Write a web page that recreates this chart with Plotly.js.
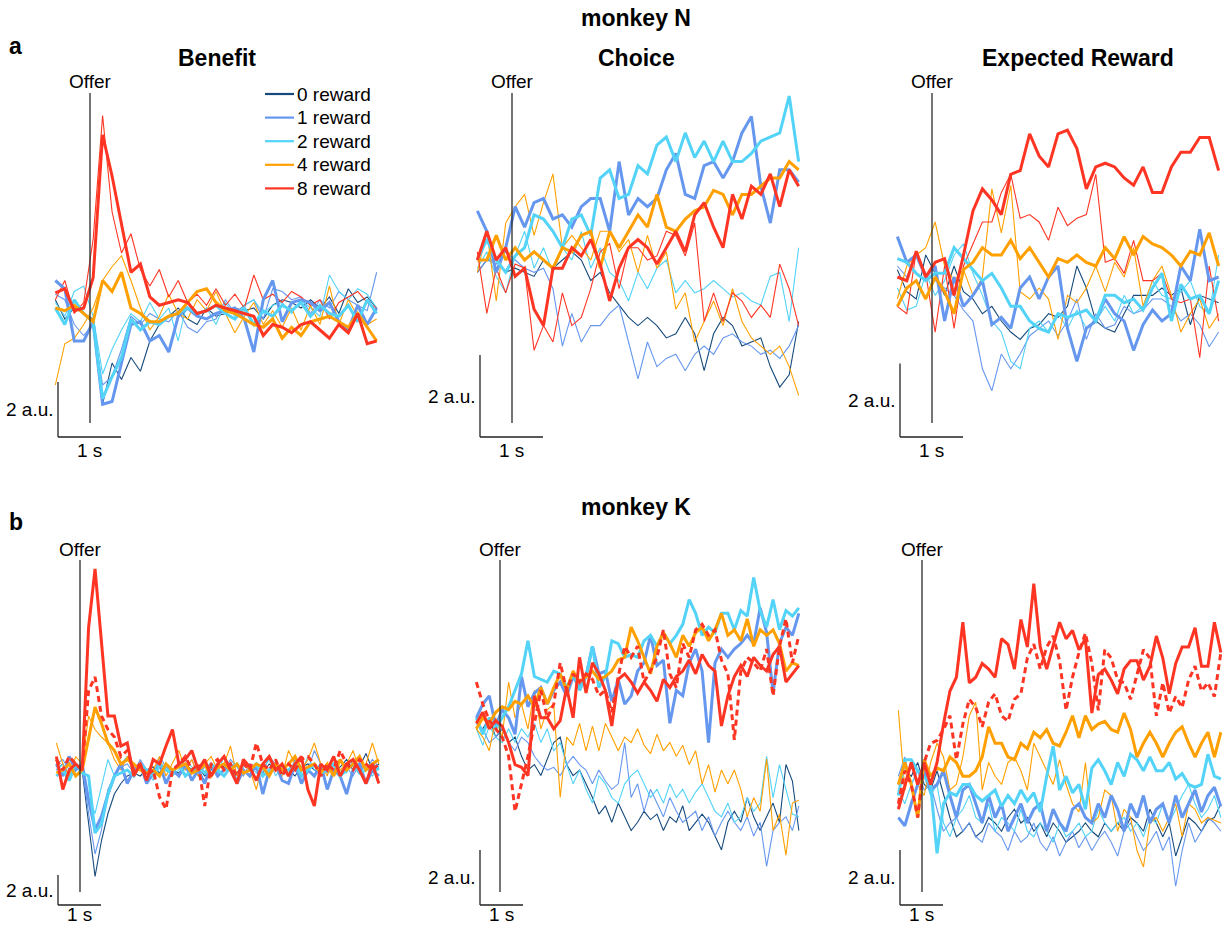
<!DOCTYPE html>
<html><head><meta charset="utf-8">
<script src="https://cdn.plot.ly/plotly-3.0.1.min.js"></script>
<style>html,body{margin:0;padding:0;background:#fff}#chart{width:1225px;height:926px}</style>
</head><body><div id="chart"></div>
<script>
// ---------- time bins (seconds relative to offer) ----------
const timeTop = {start: -0.55, step: 0.15, count: 35};
const timeBottom = {start: -0.55, step: 0.15, count: 51};

// ---------- labels ----------
const rewardKeys = ['r0', 'r1', 'r2', 'r4', 'r8'];
const rewardLabels = ['0 reward', '1 reward', '2 reward', '4 reward', '8 reward'];
const panelTitles = ['Benefit', 'Choice', 'Expected Reward'];
const monkeyTitles = ['monkey N', 'monkey K'];
const rowLetters = ['a', 'b'];
const scaleBarTime = 1;   // s
const scaleBarAmp = 2;    // a.u.

// ---------- monkey N : Benefit (a.u.) ----------
const N_ben_r0 = [0.3,-0.4,0.0,-0.2,-0.4,-3.5,-2.0,-2.6,-1.8,-2.3,-1.2,-0.6,-0.3,0.0,-0.4,-0.6,0.0,-0.3,-0.2,0.0,-0.1,0.0,-0.4,0.1,0.3,0.2,0.0,0.3,0.0,0.4,-0.2,0.7,0.2,0.4,0.0];
const N_ben_r1_thin = [0.5,0.3,-0.6,-1.0,-0.6,-2.8,-2.5,-1.5,-0.3,-0.6,-0.2,-0.4,-0.5,-0.1,-0.7,-0.9,-0.5,-0.4,0.3,-0.2,0.1,0.3,-0.4,0.7,0.6,0.3,0.4,-0.2,0.3,0.0,0.6,0.3,0.1,-0.1,1.3];
const N_ben_r1_thick = [1.0,0.7,-1.2,-1.2,-0.5,-3.5,-3.4,-2.0,-0.6,-0.5,-1.2,-1.0,-1.6,-0.3,0.0,-0.3,-0.4,-0.2,-0.1,0.0,-0.4,-1.6,0.3,1.0,-0.5,0.2,0.3,0.2,-0.1,0.2,-0.5,-0.8,0.1,-0.6,0.0];
const N_ben_r2_thin = [0.2,-0.3,0.6,0.8,-0.3,-2.4,-1.5,-0.8,-0.2,-0.5,0.2,-0.4,0.0,-1.2,0.3,-0.3,0.0,-0.6,0.2,-0.3,0.1,0.3,-0.2,0.1,0.2,-0.2,0.3,0.0,-0.3,1.2,0.6,0.3,0.7,0.5,0.0];
const N_ben_r2_thick = [0.0,-0.6,0.3,-0.2,-0.5,-3.3,-2.5,-1.8,-0.4,-0.8,-0.5,-0.6,-0.3,-0.2,0.0,-0.2,-0.1,0.1,-0.2,-0.4,0.0,-0.6,-0.1,-0.3,0.1,-0.1,0.2,-0.3,0.1,-0.2,-0.3,0.1,-0.5,0.3,-0.2];
const N_ben_r4_thin = [-2.8,-1.3,-1.1,-0.6,0.0,1.0,1.5,1.9,1.0,0.0,-0.8,-0.3,0.5,-0.2,-0.4,0.3,-0.1,0.6,-0.2,-0.9,-0.3,0.2,-0.6,-0.1,-0.7,0.0,-0.8,0.1,-0.6,0.8,-0.6,0.3,-0.3,-0.6,-0.4];
const N_ben_r4_thick = [0.0,-0.1,0.1,-0.2,-0.5,1.0,0.6,1.3,0.0,-0.2,-0.5,-0.5,-0.3,-0.2,0.2,0.6,0.7,0.2,-0.1,-0.2,-0.4,-0.6,-0.7,-0.4,-1.1,-0.7,-1.0,-0.5,-0.4,-0.3,-0.5,-0.7,-0.2,-0.7,-1.2];
const N_ben_r8_thin = [0.3,1.0,-0.2,0.2,2.5,7.0,3.5,2.0,2.7,1.4,0.8,1.4,0.4,1.0,0.2,0.5,0.1,0.7,0.1,0.5,0.0,1.2,0.3,0.5,0.2,0.6,0.4,0.1,0.3,-0.4,0.2,0.4,0.6,0.2,0.0];
const N_ben_r8_thick = [0.55,0.7,-0.1,0.0,1.1,6.3,4.8,3.0,1.3,1.6,0.4,0.1,0.2,0.3,0.2,-0.2,-0.1,0.1,0.0,-0.1,-0.2,-0.3,-1.0,-0.6,-0.7,-0.9,-0.6,-0.5,-0.8,-1.1,-0.6,-0.9,-0.2,-1.3,-1.2];

// ---------- monkey N : Choice ----------
const N_cho_r0 = [-0.3,0,0,-0.3,-0.2,-0.3,-0.4,0,-0.2,0,0.2,0,-0.5,-0.3,-0.8,-1.1,-1.4,-1.6,-1.4,-1.6,-1.9,-1.8,-1.4,-1.8,-2.7,-1.8,-1.4,-1.6,-2.1,-2.0,-1.9,-2.6,-3.1,-2.8,-1.5];
const N_cho_r1_thin = [-0.3,0.0,-0.1,0.2,0.0,-0.2,-0.3,-0.2,-0.7,-2.1,-1.3,-2.0,-1.6,-1.6,-1.3,-1.1,-2.0,-2.9,-2.0,-2.6,-2.4,-2.3,-2.7,-2.3,-2.1,-2.3,-1.9,-1.8,-2.0,-2.1,-2.3,-2.2,-2.4,-2.1,-1.6];
const N_cho_r1_thick = [1.2,0.7,-0.3,0.3,1.3,0.8,1.4,1.5,1.0,1.1,0.8,1.3,1.5,1.5,0.7,2.4,1.1,1.5,1.3,1.5,2.2,2.6,1.6,1.5,2.3,2.4,2.0,2.4,3.1,3.5,1.8,0.9,2.2,2.2,1.9];
const N_cho_r2_thin = [-0.2,0.2,-0.4,-0.8,0.1,0.7,-0.2,0.3,-0.3,0.3,0.0,0.7,-0.2,0.3,-0.3,-0.5,-1.0,-0.3,-0.7,-0.2,0.0,-0.8,-0.5,-0.8,-0.7,-0.5,-0.7,-0.9,-0.8,-1.0,-1.1,-0.4,-0.3,-1.5,0.3];
const N_cho_r2_thick = [0,0.5,0,-0.3,0.1,0.3,1.1,1.0,0.7,0.3,1.0,1.1,0.6,2.0,2.2,1.5,1.6,2.3,2.1,2.8,3.0,2.4,3.1,2.5,2.9,2.4,2.9,2.4,2.4,2.6,2.9,3.0,3.1,4.0,2.4];
const N_cho_r4_thin = [-0.3,0.7,-1.0,0.9,1.3,1.6,0.6,1.4,2.1,0.3,0.6,0.3,0.0,0.7,0.7,0.2,0.5,-0.3,0.6,-0.2,0.2,-1.2,-0.8,-2.0,-1.5,-1.0,-1.6,-0.7,-1.5,-1.9,-2.1,-2.3,-2.1,-2.6,-3.3];
const N_cho_r4_thick = [0,0,0.6,0,0.3,0,0.2,0,-0.2,0.3,0.2,0.6,0.7,-0.2,0.7,0.3,0.7,1.1,0.8,1.6,0.8,0.7,1.0,1.2,1.3,1.7,1.6,1.1,1.6,1.6,1.8,2.0,2.0,2.4,2.2];
const N_cho_r8_thin = [0.2,-1.3,-0.2,-0.8,-0.1,-0.2,-2.2,-1.6,-2.0,-0.8,-1.6,-1.4,-0.7,0.2,0.4,-0.7,0.3,0.3,0.0,0.1,0.7,0.6,0.1,0.9,-1.5,-0.8,-1.5,-0.8,-1.0,-1.4,-1.1,-1.4,-0.1,-0.7,-1.6];
const N_cho_r8_thick = [0,0.7,0,0.3,-0.4,-0.2,-1.2,-1.6,-0.2,-0.2,0.3,0.1,0.5,-0.1,-1.0,-0.2,0.3,0.5,0.3,-0.1,0.3,0.7,0.2,1.1,1.4,0.8,0.3,1.6,1.0,1.8,1.6,2.1,1.3,2.2,1.8];

// ---------- monkey N : Expected Reward ----------
const N_exp_r0 = [0.2,-0.4,-0.6,0.6,0.1,-0.5,0.3,-0.4,-0.6,-1.0,-0.8,-1.2,-1.5,-1.7,-1.4,-1.3,-1.0,-1.1,-0.8,0.3,-0.3,-1.2,-1.4,-1.5,-1.0,-0.5,-0.5,-0.5,-0.3,-0.5,-0.3,-1.3,-0.5,-0.6,-0.7];
const N_exp_r1_thin = [0.3,0,0.6,0.1,-0.1,-0.3,-0.5,-0.9,-1.2,-2.5,-3.1,-2.1,-2.5,-2.1,-1.6,-1.4,-1.2,-1.6,-1.2,-0.6,-1.7,-1.0,-1.4,-1.3,-0.8,-1.0,-0.9,-0.6,-0.6,-0.8,-1.2,-1.0,-1.3,-1.9,-1.5];
const N_exp_r1_thick = [1.1,0.4,0.6,0,0.3,-1.2,0,-0.8,-0.5,-0.1,-1.3,-1.1,-1.4,-0.3,0,-0.6,0,0.3,-1.4,-2.3,-1.4,-1.2,-0.6,-1.0,-1.2,-2.0,-1.3,-0.9,-1.2,-1.0,0.3,-0.1,1.3,-0.1,0];
const N_exp_r2_thin = [-0.3,-0.9,-0.8,0.1,-0.5,-0.1,0.6,0.9,0.1,-0.5,-1.2,-1.5,-2.3,-2.5,-1.4,-1.2,-1.5,-1.0,-1.4,-0.9,-1.4,-1.2,-0.8,-1.2,-0.5,-1.0,-0.8,-0.1,-0.5,-0.6,-0.4,-0.1,-0.8,-1.0,0.6];
const N_exp_r2_thick = [0.5,0.4,0.1,-0.1,0.1,0.1,0.8,0.5,0.2,-0.1,0.1,-0.3,-0.8,-0.8,-1.2,-1.4,-1.5,-1.0,-1.1,-1.0,-0.9,-1.2,-0.5,-0.5,-0.7,-0.6,-0.9,-0.3,0.1,-1.2,-0.2,-0.6,-0.5,-1.0,-0.1];
const N_exp_r4_thin = [-0.6,0.3,0.6,0.8,1.5,0.3,-0.1,0.2,-0.5,0,2.4,1.2,2.5,-0.4,-0.6,-0.3,-0.6,-1.7,-0.5,-0.7,-0.3,0.3,-0.4,0.4,0,0.8,-0.8,-0.1,0.3,-0.5,-1.5,-1.0,-0.6,-1.4,-1.0];
const N_exp_r4_thick = [-0.8,-0.3,-0.1,-0.6,0,-0.4,-1.0,0.2,0.4,0.8,0.6,0.6,1.0,0.5,0.8,0.4,0,0.5,0.4,0.6,0.4,0.3,0.8,0.5,1.1,0.6,1.1,0.9,0.8,0.6,0.3,0.7,0.6,1.2,0.3];
const N_exp_r8_thin = [-0.8,-1.0,0.7,0.1,-1.5,0.3,-1.4,0.3,0.9,1.5,1.5,2.3,2.8,1.6,1.7,1.5,1.0,1.9,1.4,1.6,1.7,2.8,0.4,0.5,0.1,1.0,-0.1,-0.1,0.1,-0.6,-0.7,-0.6,-2.2,0.3,-1.2];
const N_exp_r8_thick = [0,-0.1,0.7,0,0.4,0.5,-0.5,0.6,1.8,2.4,2.1,1.7,2.8,2.9,3.9,3.3,3.0,3.9,4.0,3.5,2.4,3.0,3.1,3.0,2.7,2.5,3.0,2.3,2.3,3.0,3.4,3.4,3.8,3.8,2.9];

// ---------- monkey K : Benefit ----------
const K_ben_r0 = [0,0.4,-0.4,0.2,0,-3.6,-7.1,-4.7,-2.9,-1.6,-0.9,-0.4,-0.2,-0.4,0,0.2,-0.2,0.4,0,-0.2,0.4,0,0.2,-0.4,0,0.4,0.2,0,-0.2,0.4,0,0.2,-0.2,0.4,0,0.2,0,-0.4,0.2,0.4,0,-0.2,0.4,0,0.2,0.7,0,0.2,1.1,0,0.4];
const K_ben_r1_thin = [0.4,0.7,0,-0.4,0.2,-2.9,-5.6,-4.0,-1.3,-0.4,0.2,0.4,-0.2,0.7,0,-0.4,0.9,0.2,-0.2,0.4,0,0.7,-0.4,0.2,0.4,-0.2,0,0.7,0.2,-0.4,0.4,0,-0.2,0.9,0.4,0,-0.4,0.7,0.2,0,1.3,0.4,-0.2,0,0.7,0.2,-0.4,0.4,0,0.7,0.2];
const K_ben_r1_thick = [0.4,-0.4,0.9,0,0.4,-2.0,-4.0,-3.1,-1.6,-0.4,0.4,-0.9,0,0.4,-0.9,-0.2,0.4,-0.9,0,-0.4,0.4,-0.7,0,-0.9,0.4,-0.4,0,0.4,-0.9,0,-0.4,0.4,-1.6,0,0.4,-0.7,-0.9,0.4,-0.9,0,-0.4,0.4,-1.3,0,-0.4,-1.6,0,0.4,-0.9,0,-0.4];
const K_ben_r2_thin = [0,0.4,-0.4,0.2,0,-1.8,-2.9,-1.1,0.7,-0.4,0.4,0.9,-0.2,0.4,0,-0.7,0.2,0.4,-0.4,0,0.7,0.2,-0.4,0.4,0,-0.2,0.9,0,-0.4,0.2,0.4,-0.2,0,0.7,-0.4,0.2,0,0.4,-0.2,0.9,0,-0.4,0.2,0.4,0,-0.2,0.7,0,0.2,-0.4,0.2];
const K_ben_r2_thick = [-0.4,0,-0.7,0.4,-0.2,-0.4,-4.2,-3.6,-1.6,-0.4,-0.2,0,-0.4,0.4,0,-0.4,0.4,0,-0.2,0.4,-0.4,0,0.2,-0.2,0.4,0,-0.4,0.2,0.4,-0.2,0,0.4,-0.4,0,0.4,-0.2,0,0.4,-0.4,0,0.4,-0.2,0,0.4,-0.4,0,0.4,-0.2,0,0.4,0];
const K_ben_r4_thin = [1.8,0.4,-0.4,0.9,0.4,3.6,2.7,2.2,1.8,0.7,0,0.9,-0.2,0.4,-0.9,0,0.9,-0.4,0.4,1.3,0,0.7,-0.4,0.4,0.9,0,0.4,1.6,-0.4,0.4,0,-1.3,0.4,0.9,0,-0.4,1.3,0.4,0,0.7,1.8,0.4,-0.4,0.9,0,0.4,1.3,0,0.4,1.8,0.4];
const K_ben_r4_thick = [-0.2,0,0.4,-0.4,0,2.2,4.2,3.1,1.8,1.3,0.4,0.7,0.4,0,-0.2,0,-0.4,0.4,0,0.2,0.4,-0.2,0,0.4,-0.4,0.2,0.4,0,0.4,-0.2,0,0.4,0.2,-0.4,0.4,0,0.4,0.9,0,0.2,0.4,-0.2,0.4,-0.4,0.7,0,0.4,0.9,0,0.4,0.7];
const K_ben_r8_dash = [0.7,0,0.9,0.4,0,5.3,6.2,3.6,2.7,2.2,0.9,1.3,0,0.4,-0.4,0,-1.8,-2.6,0,0.4,0.9,0,0.4,-2.4,0.4,0.7,0,0.4,-0.4,0.4,0,1.8,0.4,0,0.7,-0.4,0.4,0,0.7,0.9,0.4,-0.4,0.4,0,1.3,0.4,0,0.7,0.4,0,0.4];
const K_ben_r8_thick = [0.9,-1.3,0,0.4,0,9.5,13.4,8.5,3.6,3.6,1.6,1.8,-0.4,0.4,-0.7,0.7,0.4,1.6,2.7,0.4,0.7,1.3,0,0.7,-0.4,0.4,0.9,0,-0.9,0.7,0.2,-0.7,0.4,0.9,0,0.4,-0.4,0.4,0.9,-1.3,-2.4,0.4,0,0.9,-0.4,0.4,0.7,0,-0.9,0.4,-0.9];

// ---------- monkey K : Choice ----------
const K_cho_r0 = [0,-0.2,0.2,-0.5,-0.2,-0.7,-0.5,-1.2,-1.7,-1.5,-1.9,-1.3,-0.7,-0.5,-1.5,-1.9,-1.7,-2.2,-2.7,-3.3,-3.0,-3.6,-2.9,-3.4,-3.9,-3.6,-3.2,-3.5,-3.3,-3.9,-3.4,-3.6,-3.0,-3.9,-3.6,-3.3,-3.6,-4.1,-4.6,-3.6,-3.2,-3.6,-2.7,-3.4,-3.9,-3.4,-2.9,-3.6,-1.5,-2.1,-3.9];
const K_cho_r1_thin = [0,-0.2,-0.7,-0.5,-0.2,-0.7,-1.0,-0.5,-0.7,-1.2,-1.5,-1.7,-1.6,-1.9,-1.5,-1.2,-1.5,-1.7,-2.2,-1.7,-2.1,-2.4,-2.2,-0.7,-2.7,-2.2,-3.2,-2.4,-2.9,-3.4,-2.7,-3.2,-3.6,-3.4,-3.2,-3.9,-3.4,-4.1,-3.6,-3.2,-3.6,-3.9,-3.4,-4.1,-3.6,-5.2,-3.9,-3.6,-3.4,-3.9,-3.0];
const K_cho_r1_thick = [0.2,0.7,1.0,-0.1,0.5,0.2,-0.4,1.7,0.6,1.1,1.3,0.7,1.2,1.5,1.0,1.7,1.3,1.7,2.8,1.8,1.9,0.8,1.6,0.7,1.0,1.9,2.2,3.2,2.1,2.3,0,1.2,1.0,2.2,2.7,1.9,-0.7,2.2,2.7,2.4,2.7,2.9,3.2,2.9,4.2,3.3,1.1,2.9,3.5,3.2,4.0];
const K_cho_r2_thin = [-0.2,-0.8,-0.1,-0.5,-0.7,-0.2,-0.7,-0.2,-0.5,0,-0.7,-0.2,-1.0,-0.7,-1.5,-2.2,-1.7,-2.4,-2.9,-1.9,-2.2,-2.7,-2.9,-2.2,-1.9,-1.7,-2.2,-2.7,-2.4,-2.9,-2.2,-2.7,-2.4,-2.9,-2.5,-2.2,-2.7,-3.2,-3.4,-2.9,-3.6,-3.4,-2.7,-3.2,-2.9,-1.2,-2.7,-1.5,-2.4,-3.3,-3.4];
const K_cho_r2_thick = [0.2,-0.4,0.2,-0.2,0.2,0.6,1.2,1.8,3.0,1.7,1.6,1.5,1.9,1.8,1.3,1.8,1.2,1.7,2.8,1.3,1.7,3.0,2.9,2.4,2.5,2.4,3.0,3.2,2.8,3.3,2.9,3.2,3.6,4.5,4.0,3.2,3.5,3.3,4.0,4.0,3.4,4.1,3.9,5.3,4.1,3.5,4.5,3.4,4.1,3.9,4.2];
const K_cho_r4_thin = [-0.2,-0.5,-1.0,0.2,-0.5,1.5,0.2,0.7,-0.2,1.2,-0.2,0.5,0.7,-2.7,-0.5,-0.8,0,-1.0,-0.1,-1.0,0,-0.5,-1.0,-0.5,-0.7,-0.2,-0.8,-1.1,-0.4,-1.0,-0.7,-1.2,-0.8,-1.5,-1.0,-2.2,-1.5,-2.5,-1.7,-2.2,-1.7,-2.4,-3.4,-2.7,-3.2,-1.3,-3.9,-3.3,-4.8,-2.9,-2.8];
const K_cho_r4_thick = [-0.2,0.2,0,0.4,0.6,0.5,0.8,0.7,1.0,0.6,1.3,0.7,1.3,1.8,1.2,1.9,1.5,1.7,1.9,1.6,1.7,1.9,2.3,2.4,3.5,3.0,2.4,1.8,2.8,3.3,2.9,2.4,3.2,2.8,3.3,3.5,3.0,3.4,4.0,3.2,3.4,3.0,3.8,2.8,3.4,3.2,3.4,2.9,1.9,2.2,2.1];
const K_cho_r8_dash = [1.5,0.7,0.1,-0.2,-0.5,-1.2,-3.2,-2.2,-1.2,0,1.2,0.2,0.7,2.2,1.2,1.8,1.5,1.8,1.6,1.0,1.2,0.4,1.7,2.8,2.4,2.8,1.5,1.9,2.4,3.4,1.8,1.3,2.9,2.4,3.4,3.6,3.2,3.4,2.3,1.8,-0.6,1.9,2.4,2.2,1.9,2.7,1.0,2.8,3.8,2.2,3.2];
const K_cho_r8_thick = [0,0.4,-0.2,0.1,-0.1,-0.7,-1.5,-1.6,-1.9,1.0,0.2,0.2,-0.2,0.1,1.3,0.2,2.4,1.1,2.2,1.8,1.2,-0.1,1.6,1.8,1.5,1.1,1.5,1.2,0.8,1.6,1.3,1.7,1.9,2.3,1.8,2.5,2.1,1.9,-0.1,1.0,1.7,2.1,1.7,2.4,2.1,1.9,2.5,2.8,1.5,1.8,2.1];

// ---------- monkey K : Expected Reward ----------
const K_exp_r0 = [0.2,0.7,0.5,1.0,0.2,0,0.7,-0.2,-1.0,-1.7,-1.5,-1.2,-1.7,-1.5,-1.0,-1.2,-1.5,-1.0,-0.7,-1.2,-1.0,-1.5,-1.2,-1.7,-1.2,-1.5,-1.9,-1.7,-1.5,-1.2,-1.5,-1.7,-1.2,-1.5,-1.2,-1.5,-1.0,-1.2,-1.5,-0.7,-1.2,-1.7,-1.2,-2.4,-1.7,-1.0,-1.2,-1.5,-1.1,-1.0,-0.5];
const K_exp_r1_thin = [0.5,1.2,0.2,0.7,0,0.2,-0.7,-1.5,-1.2,-1.0,-1.5,-1.2,-1.7,-1.9,-1.2,-1.5,-1.7,-2.2,-1.5,-1.9,-1.7,-1.2,-1.9,-2.2,-1.7,-2.4,-1.9,-1.5,-2.1,-1.7,-2.2,-1.8,-1.5,-1.9,-2.4,-1.5,-1.2,-1.7,-2.2,-1.9,-1.5,-2.2,-1.7,-3.5,-2.2,-1.2,-1.9,-1.5,-1.0,-1.2,-1.5];
const K_exp_r1_thick = [-1.0,-1.3,-0.5,0.2,0.7,0,0.2,0.7,-0.2,-1.0,0,0.2,-0.5,-1.2,-0.2,-1.0,-0.5,-1.5,-1.0,-0.5,-1.2,-0.7,-0.5,-1.5,-0.7,-1.2,-1.5,-0.7,-0.5,-1.0,-1.2,-0.5,-1.0,-0.2,-0.7,-1.5,-0.5,-1.0,-0.2,-1.2,-0.7,-0.5,-1.2,-0.2,-1.0,-0.5,0,-0.8,-0.2,0.1,-0.6];
const K_exp_r2_thin = [0,-0.5,0.2,0.7,0.5,-0.2,0.2,-1.2,-1.7,-1.0,-0.7,-0.2,-1.0,-1.2,-0.5,-1.5,-1.0,-1.2,-1.5,-0.7,-1.5,-1.7,-1.2,-1.5,-1.9,-1.2,-1.7,-1.5,-1.2,-1.7,-1.5,-0.7,-1.2,-1.5,-1.2,-1.0,-1.5,-1.2,-1.7,-1.0,-1.2,-0.5,-1.2,-0.7,-0.2,0.2,-0.5,-1.0,-0.7,-0.2,-1.0];
const K_exp_r2_thick = [-0.2,1.1,1.1,0.7,0.5,0.2,-2.3,-0.5,-0.1,-0.2,0.2,0.2,-0.2,-0.4,-0.2,0,-0.6,-0.2,-0.5,0,-0.4,-0.1,-0.8,0.5,1.6,0,0.5,-0.1,0.2,-0.7,0.8,1.1,0.7,0.2,1.0,0.5,1.3,1.1,0.7,1.2,0.7,0.7,1.0,0.4,0.6,0.2,0.1,0.2,1.3,0.5,0.4];
const K_exp_r4_thin = [2.9,0,1.0,0.2,-0.2,1.0,1.7,1.2,0,0.2,1.2,2.7,3.2,0,1.0,0.5,0.2,1.0,1.2,0.7,0,1.7,1.2,0.7,0.2,1.1,0.2,-0.5,-0.8,1.0,-1.2,-1.0,0,-0.2,-1.5,-0.7,-1.0,-2.2,-2.8,-1.2,-1.0,-1.5,-1.0,-0.5,-1.7,-0.5,-0.7,-1.2,-1.0,-1.1,-1.2];
const K_exp_r4_thick = [0.2,1.0,0.2,-1.0,1.1,0.5,0.8,0.7,1.2,1.0,0.5,0.5,0.7,1.2,2.3,1.7,1.7,1.2,1.1,1.7,1.5,2.1,1.9,2.2,1.7,1.6,2.1,2.7,1.9,2.7,2.2,2.4,2.5,2.2,2.1,2.8,2.2,1.2,1.7,2.1,1.7,1.2,1.7,2.1,2.3,1.7,1.2,1.7,2.1,1.2,2.1];
const K_exp_r8_dash = [-0.5,0.7,0.2,-1.0,1.0,1.7,1.8,2.2,2.7,1.1,2.4,3.3,3.0,2.3,3.2,3.5,2.7,2.5,3.3,3.5,4.8,5.3,4.4,5.2,5.6,4.7,2.9,4.1,5.0,5.7,4.6,2.9,5.1,4.8,4.0,3.9,3.3,4.2,5.1,4.8,2.7,3.9,2.8,3.4,3.0,4.0,4.5,3.6,3.9,3.4,5.0];
const K_exp_r8_thick = [-0.7,0.2,1.0,0.2,1.0,0.2,1.0,2.4,3.6,4.1,6.1,3.9,4.1,4.6,4.4,4.1,5.5,5.3,4.4,6.2,5.2,7.5,5.2,4.4,5.3,6.1,5.5,5.8,5.1,5.5,2.8,4.2,4.4,4.0,3.5,4.4,4.7,4.7,4.0,4.5,5.6,4.8,3.5,4.6,5.2,5.2,5.9,4.5,4.5,6.1,5.0];

// ---------- series per panel (draw order: thin, then thick) ----------
const panelSeries = [
  [['r0','thin',N_ben_r0],['r1','thin',N_ben_r1_thin],['r2','thin',N_ben_r2_thin],['r4','thin',N_ben_r4_thin],['r8','thin',N_ben_r8_thin],
   ['r1','thick',N_ben_r1_thick],['r2','thick',N_ben_r2_thick],['r4','thick',N_ben_r4_thick],['r8','thick',N_ben_r8_thick]],
  [['r0','thin',N_cho_r0],['r1','thin',N_cho_r1_thin],['r2','thin',N_cho_r2_thin],['r4','thin',N_cho_r4_thin],['r8','thin',N_cho_r8_thin],
   ['r1','thick',N_cho_r1_thick],['r2','thick',N_cho_r2_thick],['r4','thick',N_cho_r4_thick],['r8','thick',N_cho_r8_thick]],
  [['r0','thin',N_exp_r0],['r1','thin',N_exp_r1_thin],['r2','thin',N_exp_r2_thin],['r4','thin',N_exp_r4_thin],['r8','thin',N_exp_r8_thin],
   ['r1','thick',N_exp_r1_thick],['r2','thick',N_exp_r2_thick],['r4','thick',N_exp_r4_thick],['r8','thick',N_exp_r8_thick]],
  [['r0','thin',K_ben_r0],['r1','thin',K_ben_r1_thin],['r2','thin',K_ben_r2_thin],['r4','thin',K_ben_r4_thin],
   ['r1','thick',K_ben_r1_thick],['r2','thick',K_ben_r2_thick],['r4','thick',K_ben_r4_thick],['r8','dash',K_ben_r8_dash],['r8','thick',K_ben_r8_thick]],
  [['r0','thin',K_cho_r0],['r1','thin',K_cho_r1_thin],['r2','thin',K_cho_r2_thin],['r4','thin',K_cho_r4_thin],
   ['r1','thick',K_cho_r1_thick],['r2','thick',K_cho_r2_thick],['r4','thick',K_cho_r4_thick],['r8','dash',K_cho_r8_dash],['r8','thick',K_cho_r8_thick]],
  [['r0','thin',K_exp_r0],['r1','thin',K_exp_r1_thin],['r2','thin',K_exp_r2_thin],['r4','thin',K_exp_r4_thin],
   ['r1','thick',K_exp_r1_thick],['r2','thick',K_exp_r2_thick],['r4','thick',K_exp_r4_thick],['r8','dash',K_exp_r8_dash],['r8','thick',K_exp_r8_thick]]
];

// ---------- styles & geometry (pixels) ----------
const W = 1225, H = 926;
const colorOf = {r0:'#164a7c', r1:'#6697ef', r2:'#52d3f7', r4:'#ffa000', r8:'#ff3524'};
const lineOf = {thin:{width:1.1}, thick:{width:3}, dash:{width:3, dash:'6px,4px'}};
const FONT = '"Liberation Sans", Arial, Helvetica, sans-serif';
const geom = [
  {row:0, col:0, box:[30,405,66,462], offer:90,  base:308,   sx:63, sy:27.5, bar:[58,437]},
  {row:0, col:1, box:[440,822,66,462], offer:512, base:260,   sx:63, sy:41,   bar:[480,437]},
  {row:0, col:2, box:[860,1225,66,462], offer:932, base:277,  sx:63, sy:36.7, bar:[900,437]},
  {row:1, col:0, box:[30,405,540,926], offer:80,  base:770,   sx:43, sy:15,   bar:[58,905]},
  {row:1, col:1, box:[440,822,540,926], offer:500, base:723.3, sx:43, sy:27.5, bar:[480,905]},
  {row:1, col:2, box:[860,1225,540,926], offer:922, base:790, sx:43, sy:27.5, bar:[900,905]}
];
const offerSpan = [[93,423],[560,892]];
const offerLabelY = [82, 549];
const titleY = [58, null];
const monkeyY = [18, 507];
const letterY = [46, 522];

const px = x => x / W, py = y => 1 - y / H;
const timeAxis = spec => Array.from({length: spec.count}, (_, i) => +(spec.start + i * spec.step).toFixed(3));

const data = [], shapes = [], annotations = [], layout = {
  width: W, height: H, margin: {l:0, r:0, t:0, b:0}, showlegend: false,
  paper_bgcolor: '#fff', plot_bgcolor: 'rgba(0,0,0,0)', font: {family: FONT, color: '#000'}
};

geom.forEach((g, i) => {
  const n = i + 1, sfx = n === 1 ? '' : String(n);
  const xa = 'x' + sfx, ya = 'y' + sfx;
  const [x0, x1, y0, y1] = g.box;
  const hidden = {visible: false, showgrid: false, zeroline: false, fixedrange: true};
  layout['xaxis' + sfx] = Object.assign({domain: [px(x0), px(x1)], range: [(x0 - g.offer) / g.sx, (x1 - g.offer) / g.sx], anchor: ya}, hidden);
  layout['yaxis' + sfx] = Object.assign({domain: [py(y1), py(y0)], range: [(g.base - y1) / g.sy, (g.base - y0) / g.sy], anchor: xa}, hidden);
  const t = timeAxis(g.row === 0 ? timeTop : timeBottom);
  panelSeries[i].forEach(([key, kind, vals]) => {
    data.push({type: 'scatter', mode: 'lines', x: t, y: vals, xaxis: xa, yaxis: ya,
      line: Object.assign({color: colorOf[key], shape: 'linear'}, lineOf[kind]), hoverinfo: 'skip'});
  });
  // offer line
  const span = offerSpan[g.row];
  shapes.push({type: 'line', xref: xa, yref: 'paper', x0: 0, x1: 0, y0: py(span[1]), y1: py(span[0]),
    line: {color: '#2a2a2a', width: 1.3}});
  annotations.push({xref: xa, yref: 'paper', x: 0, y: py(offerLabelY[g.row]), text: 'Offer', showarrow: false,
    xanchor: 'center', yanchor: 'middle', font: {size: 19, family: FONT}});
  // scale bars
  const t0 = (g.bar[0] - g.offer) / g.sx, v0 = (g.base - g.bar[1]) / g.sy;
  shapes.push({type: 'line', xref: xa, yref: ya, x0: t0, x1: t0, y0: v0, y1: v0 + scaleBarAmp, line: {color: '#222', width: 1.3}});
  shapes.push({type: 'line', xref: xa, yref: ya, x0: t0, x1: t0 + scaleBarTime, y0: v0, y1: v0, line: {color: '#222', width: 1.3}});
  annotations.push({xref: 'paper', yref: ya, x: px(g.bar[0] - 2), y: v0 + scaleBarAmp / 2, text: scaleBarAmp + ' a.u.', showarrow: false,
    xanchor: 'right', yanchor: 'middle', font: {size: 19, family: FONT}});
  const sLabel = g.row === 0
    ? {y: py(g.bar[1] + 14), yanchor: 'middle'}
    : {y: 0, yanchor: 'bottom'};
  annotations.push(Object.assign({xref: xa, yref: 'paper', x: t0 + scaleBarTime / 2, text: scaleBarTime + ' s', showarrow: false,
    xanchor: 'center', borderpad: 0, font: {size: 19, family: FONT}}, sLabel));
  // panel titles (top row only)
  if (g.row === 0) {
    const cx = [217, 636, 1078][g.col];
    annotations.push({xref: 'paper', yref: 'paper', x: px(cx), y: py(titleY[0]), text: '<b>' + panelTitles[g.col] + '</b>',
      showarrow: false, xanchor: 'center', yanchor: 'middle', font: {size: 23, family: FONT}});
  }
});

monkeyTitles.forEach((m, r) => {
  annotations.push({xref: 'paper', yref: 'paper', x: px(636), y: py(monkeyY[r]), text: '<b>' + m + '</b>', showarrow: false,
    xanchor: 'center', yanchor: 'middle', font: {size: 23, family: FONT}});
  annotations.push({xref: 'paper', yref: 'paper', x: px(7), y: py(letterY[r]), text: '<b>' + rowLetters[r] + '</b>', showarrow: false,
    xanchor: 'left', yanchor: 'middle', font: {size: 23, family: FONT}});
});

// legend (inside Benefit panel, monkey N)
rewardKeys.forEach((k, i) => {
  const y = 94 + i * 23.6;
  shapes.push({type: 'line', xref: 'paper', yref: 'paper', x0: px(265), x1: px(294), y0: py(y), y1: py(y),
    line: {color: colorOf[k], width: 2.2}});
  annotations.push({xref: 'paper', yref: 'paper', x: px(295), y: py(y), text: rewardLabels[i], showarrow: false,
    xanchor: 'left', yanchor: 'middle', font: {size: 19, family: FONT}});
});

layout.shapes = shapes;
layout.annotations = annotations;
Plotly.newPlot('chart', data, layout, {staticPlot: true, displayModeBar: false});
</script>
</body></html>
